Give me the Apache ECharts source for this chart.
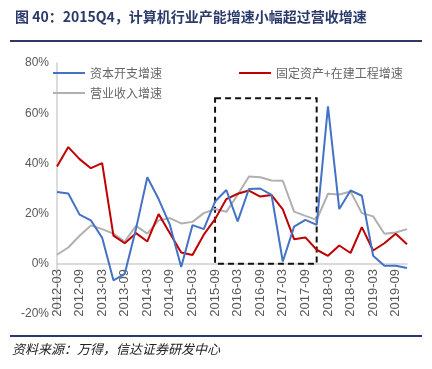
<!DOCTYPE html>
<html>
<head>
<meta charset="utf-8">
<script src="https://cdn.jsdelivr.net/npm/echarts@6/dist/echarts.min.js"></script>
<style>
  html, body { margin: 0; padding: 0; background: #fff; }
  #chart { width: 432px; height: 369px; }
</style>
</head>
<body>
<div id="chart"></div>
<script>
// 季度
const quarters = [
  '2012-03', '2012-06', '2012-09', '2012-12',
  '2013-03', '2013-06', '2013-09', '2013-12',
  '2014-03', '2014-06', '2014-09', '2014-12',
  '2015-03', '2015-06', '2015-09', '2015-12',
  '2016-03', '2016-06', '2016-09', '2016-12',
  '2017-03', '2017-06', '2017-09', '2017-12',
  '2018-03', '2018-06', '2018-09', '2018-12',
  '2019-03', '2019-06', '2019-09', '2019-12',
]
const capexGrowth = [
  28.6, 28.0, 19.6, 17.3, 10.4, -6.6, -4.0, 14.0,
  34.5, 25.8, 15.5, -1.3, 15.4, 13.8, 24.8, 29.4,
  16.9, 29.8, 30.0, 27.5, 0.9, 14.8, 17.5, 15.5,
  62.7, 21.8, 29.2, 27.1, 3.2, -0.8, -0.8, -1.7,
]
const fixedAssetGrowth = [
  38.8, 46.5, 41.7, 38.1, 40.1, 11.2, 8.2, 12.2,
  8.9, 19.8, 12.2, 4.5, 3.5, 11.6, 17.8, 25.8,
  27.9, 29.2, 26.8, 27.4, 21.7, 9.8, 10.5, 5.6,
  3.2, 7.3, 4.3, 14.6, 5.3, 8.2, 12.0, 7.8,
]
const revenueGrowth = [
  3.6, 6.5, 11.2, 15.3, 13.8, 12.0, 8.9, 15.1,
  12.0, 17.3, 18.2, 16.1, 16.7, 20.2, 21.8, 20.7,
  27.5, 34.8, 34.5, 33.2, 33.1, 20.8, 19.1, 17.5,
  27.9, 27.6, 28.8, 20.2, 18.9, 12.0, 12.5, 13.8,
]
// 虚线框
const boxFrom = ['2015-09', 66]
const boxTo = ['2017-12', 0]

const chart = echarts.init(document.getElementById('chart'))
const labelColor = '#595959'
const cjk = '"Noto Sans CJK SC", sans-serif'

chart.setOption({
  animation: false,
  textStyle: { fontFamily: cjk },
  title: {
    text: '图 40：2015Q4，计算机行业产能增速小幅超过营收增速',
    left: 10,
    top: 5,
    textStyle: { fontSize: 14, fontWeight: 'bold', color: '#2b3a6b', fontFamily: cjk },
  },
  graphic: [
    { type: 'rect', shape: { x: 10, y: 40, width: 412, height: 2 }, style: { fill: '#2b3a6b' } },
    { type: 'rect', shape: { x: 10, y: 335, width: 412, height: 2 }, style: { fill: '#2b3a6b' } },
    {
      type: 'text', left: 12, top: 343,
      style: { text: '资料来源：万得，信达证券研发中心', fontSize: 13, fontStyle: 'italic', fill: '#222', fontFamily: cjk },
    },
  ],
  legend: [
    {
      left: 48, top: 62, orient: 'vertical', itemGap: 8,
      itemWidth: 32, itemHeight: 2, icon: 'rect',
      data: ['资本开支增速', '营业收入增速'],
      textStyle: { color: '#666', fontSize: 12, fontFamily: cjk },
    },
    {
      left: 234, top: 62,
      itemWidth: 32, itemHeight: 2, icon: 'rect',
      data: ['固定资产+在建工程增速'],
      textStyle: { color: '#666', fontSize: 12, fontFamily: cjk },
    },
  ],
  grid: { left: 57, right: 25, top: 63, bottom: 55 },
  xAxis: {
    type: 'category',
    data: quarters,
    boundaryGap: false,
    offset: -50,
    axisLine: { onZero: false, lineStyle: { color: '#d0d0d0', width: 1.5 } },
    axisTick: { show: false },
    axisLabel: { interval: 1, rotate: 90, color: labelColor, fontSize: 13, fontFamily: 'Arial, sans-serif', margin: 5 },
  },
  yAxis: {
    type: 'value',
    min: -20,
    max: 80,
    interval: 20,
    splitLine: { show: false },
    axisLine: { show: true, lineStyle: { color: '#d0d0d0', width: 1.5 } },
    axisTick: { show: false },
    axisLabel: { formatter: '{value}%', color: labelColor, fontSize: 12, fontFamily: 'Arial, sans-serif', margin: 8 },
  },
  series: [
    {
      name: '营业收入增速',
      type: 'line',
      data: revenueGrowth,
      symbol: 'none',
      lineStyle: { color: '#b0b0b0', width: 2 },
      itemStyle: { color: '#b0b0b0' },
    },
    {
      name: '固定资产+在建工程增速',
      type: 'line',
      data: fixedAssetGrowth,
      symbol: 'none',
      lineStyle: { color: '#c00000', width: 2 },
      itemStyle: { color: '#c00000' },
    },
    {
      name: '资本开支增速',
      type: 'line',
      data: capexGrowth,
      symbol: 'none',
      lineStyle: { color: '#4472c4', width: 2 },
      itemStyle: { color: '#4472c4' },
      markArea: {
        silent: true,
        itemStyle: {
          color: 'rgba(0,0,0,0)',
          borderColor: '#111',
          borderWidth: 2,
          borderType: [6, 4],
        },
        data: [[{ coord: boxFrom }, { coord: boxTo }]],
      },
    },
  ],
})
</script>
</body>
</html>
